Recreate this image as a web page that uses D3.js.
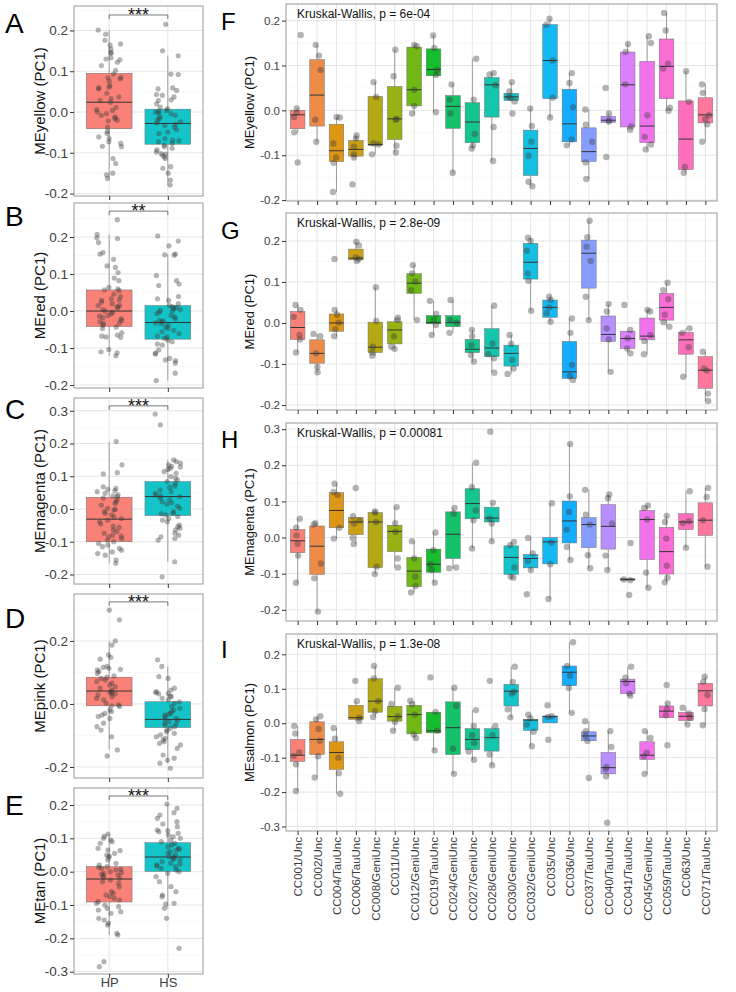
<!DOCTYPE html>
<html><head><meta charset="utf-8">
<script src="https://cdn.jsdelivr.net/npm/d3@7/dist/d3.min.js"></script>
<style>body{margin:0;background:#fff}svg{display:block}</style>
</head><body>
<svg id="c" width="736" height="992"></svg>
<script>
// ---------------- DATA ----------------
const groupsLeft = ["HP","HS"];
const catsRight = ["CC001/Unc","CC002/Unc","CC004/TauUnc","CC006/TauUnc","CC008/GeniUnc","CC011/Unc","CC012/GeniUnc","CC019/TauUnc","CC024/GeniUnc","CC027/GeniUnc","CC028/GeniUnc","CC030/GeniUnc","CC032/GeniUnc","CC035/Unc","CC036/Unc","CC037/TauUnc","CC040/TauUnc","CC041/TauUnc","CC045/GeniUnc","CC059/TauUnc","CC063/Unc","CC071/TauUnc"];

// Left panels: box stats [lo, q1, median, q3, hi]
const A_boxHP = [-0.163,-0.041,0.024,0.095,0.201], A_boxHS = [-0.179,-0.079,-0.028,0.007,0.138];
const B_boxHP = [-0.121,-0.042,0.000,0.057,0.207], B_boxHS = [-0.188,-0.076,-0.031,0.015,0.154];
const C_boxHP = [-0.166,-0.100,-0.031,0.036,0.206], C_boxHS = [-0.161,-0.020,0.038,0.084,0.150];
const D_boxHP = [-0.146,-0.006,0.041,0.085,0.200], D_boxHS = [-0.188,-0.075,-0.049,0.007,0.119];
const E_boxHP = [-0.190,-0.091,-0.022,0.015,0.113], E_boxHS = [-0.110,0.001,0.044,0.087,0.203];

const A_ptsHP = [0.201,0.191,0.176,0.167,0.164,0.154,0.146,0.144,0.133,0.130,0.128,0.122,0.114,0.102,0.093,0.085,0.084,0.081,0.076,0.065,0.061,0.059,0.057,0.046,0.037,0.033,0.028,0.024,0.011,0.006,0.004,0,-0.004,-0.008,-0.012,-0.016,-0.020,-0.022,-0.037,-0.047,-0.053,-0.061,-0.065,-0.073,-0.077,-0.084,-0.085,-0.114,-0.126,-0.150,-0.154,-0.163];
const A_ptsHS = [0.215,0.150,0.138,0.093,0.092,0.059,0.057,0.053,0.043,0.041,0.037,0.030,0.028,0.020,0.012,0.008,0.004,0.002,0,-0.002,-0.004,-0.008,-0.012,-0.016,-0.020,-0.024,-0.027,-0.030,-0.033,-0.037,-0.043,-0.049,-0.053,-0.065,-0.069,-0.071,-0.073,-0.077,-0.081,-0.085,-0.089,-0.093,-0.098,-0.102,-0.103,-0.106,-0.110,-0.114,-0.134,-0.138,-0.150,-0.167,-0.179];
const B_ptsHP = [0.247,0.207,0.198,0.196,0.185,0.158,0.154,0.140,0.122,0.118,0.104,0.089,0.082,0.064,0.060,0.057,0.055,0.046,0.039,0.033,0.030,0.029,0.024,0.020,0.015,0.015,0.011,0.009,0.004,0,-0.003,-0.007,-0.012,-0.014,-0.018,-0.021,-0.025,-0.029,-0.032,-0.034,-0.038,-0.043,-0.047,-0.059,-0.065,-0.068,-0.070,-0.071,-0.104,-0.110,-0.113,-0.121];
const B_ptsHS = [0.203,0.189,0.176,0.154,0.152,0.151,0.096,0.082,0.073,0.069,0.039,0.033,0.029,0.020,0.015,0.011,0.009,0.006,0.004,0.002,0,-0.003,-0.007,-0.012,-0.016,-0.021,-0.025,-0.027,-0.029,-0.032,-0.034,-0.038,-0.043,-0.047,-0.052,-0.056,-0.061,-0.068,-0.070,-0.074,-0.079,-0.083,-0.089,-0.092,-0.105,-0.114,-0.116,-0.128,-0.132,-0.134,-0.141,-0.168,-0.188];
const C_ptsHP = [0.206,0.135,0.111,0.107,0.068,0.063,0.060,0.056,0.053,0.048,0.043,0.040,0.038,0.033,0.028,0.022,0.017,0.012,0.002,-0.001,-0.003,-0.008,-0.013,-0.018,-0.024,-0.029,-0.034,-0.039,-0.046,-0.052,-0.056,-0.064,-0.069,-0.074,-0.080,-0.083,-0.085,-0.090,-0.095,-0.100,-0.105,-0.110,-0.115,-0.120,-0.126,-0.131,-0.136,-0.141,-0.156,-0.166];
const C_ptsHS = [0.290,0.257,0.150,0.145,0.140,0.135,0.130,0.128,0.124,0.121,0.114,0.109,0.099,0.094,0.089,0.084,0.079,0.070,0.066,0.058,0.053,0.048,0.043,0.040,0.038,0.033,0.028,0.022,0.019,0.015,0.009,0.002,-0.008,-0.013,-0.015,-0.018,-0.023,-0.029,-0.034,-0.039,-0.049,-0.054,-0.059,-0.064,-0.074,-0.080,-0.085,-0.090,-0.095,-0.161,-0.207];
const D_ptsHP = [0.298,0.267,0.200,0.187,0.156,0.148,0.142,0.119,0.116,0.113,0.110,0.108,0.103,0.097,0.089,0.085,0.081,0.076,0.071,0.066,0.060,0.055,0.050,0.044,0.039,0.036,0.034,0.032,0.029,0.023,0.018,0.013,0.002,-0.003,-0.006,-0.008,-0.019,-0.024,-0.030,-0.035,-0.040,-0.046,-0.061,-0.072,-0.083,-0.104,-0.146,-0.165];
const D_ptsHS = [0.140,0.119,0.087,0.081,0.050,0.044,0.039,0.036,0.034,0.032,0.025,0.023,0.018,0.013,0.007,0.002,-0.008,-0.014,-0.019,-0.024,-0.030,-0.032,-0.035,-0.040,-0.046,-0.049,-0.051,-0.056,-0.061,-0.063,-0.067,-0.072,-0.077,-0.083,-0.088,-0.093,-0.098,-0.104,-0.109,-0.114,-0.120,-0.125,-0.130,-0.141,-0.162,-0.172,-0.178,-0.188,-0.204];
const E_ptsHP = [0.113,0.107,0.100,0.095,0.090,0.085,0.070,0.065,0.063,0.055,0.050,0.047,0.043,0.035,0.025,0.020,0.015,0.013,0.010,0.007,0.005,0.000,-0.003,-0.005,-0.007,-0.010,-0.013,-0.017,-0.020,-0.025,-0.030,-0.035,-0.045,-0.060,-0.065,-0.070,-0.075,-0.080,-0.085,-0.090,-0.095,-0.100,-0.105,-0.110,-0.115,-0.120,-0.125,-0.140,-0.145,-0.155,-0.160,-0.185,-0.190,-0.270,-0.285];
const E_ptsHS = [0.203,0.190,0.177,0.170,0.160,0.150,0.143,0.135,0.125,0.123,0.120,0.115,0.110,0.105,0.100,0.095,0.090,0.085,0.080,0.075,0.070,0.067,0.065,0.060,0.055,0.050,0.045,0.043,0.040,0.037,0.035,0.030,0.025,0.023,0.020,0.017,0.015,0.010,0.005,0.000,-0.005,-0.015,-0.030,-0.045,-0.060,-0.070,-0.075,-0.095,-0.097,-0.110,-0.140,-0.230];

const A_sig = "***", B_sig = "**", C_sig = "***", D_sig = "***", E_sig = "***";
const A_sigY = 0.238, B_sigY = 0.270, C_sigY = 0.315, D_sigY = 0.324, E_sigY = 0.227;

const ticksAB = [-0.2,-0.1,0,0.1,0.2], labelsAB = ["-0.2","-0.1","0.0","0.1","0.2"];
const ticksC = [-0.2,-0.1,0,0.1,0.2,0.3], labelsC = ["-0.2","-0.1","0.0","0.1","0.2","0.3"];
const ticksD = [-0.2,0,0.2], labelsD = ["-0.2","0.0","0.2"];
const ticksE = [-0.3,-0.2,-0.1,0,0.1,0.2], labelsE = ["-0.3","-0.2","-0.1","0.0","0.1","0.2"];
const ticksFG = [-0.2,-0.1,0,0.1,0.2], labelsFG = ["-0.2","-0.1","0.0","0.1","0.2"];
const ticksH = [-0.2,-0.1,0,0.1,0.2,0.3], labelsH = ["-0.2","-0.1","0.0","0.1","0.2","0.3"];
const ticksI = [-0.3,-0.2,-0.1,0,0.1,0.2], labelsI = ["-0.3","-0.2","-0.1","0.0","0.1","0.2"];

// Right panels
const F_lo  = [-0.049,-0.070,-0.182,-0.105,-0.098,-0.094,-0.007,-0.004,-0.139,-0.085,-0.113,0.020,-0.169,-0.016,-0.078,-0.153,-0.027,-0.043,-0.087,-0.001,-0.139,-0.070];
const F_q1  = [-0.041,-0.035,-0.114,-0.102,-0.078,-0.065,0.010,0.077,-0.040,-0.072,-0.015,0.022,-0.145,0.026,-0.070,-0.114,-0.027,-0.037,-0.072,0.026,-0.132,-0.028];
const F_med = [-0.010,0.034,-0.090,-0.087,-0.076,-0.019,0.046,0.091,0.009,-0.026,0.057,0.030,-0.085,0.111,-0.030,-0.092,-0.022,0.057,-0.035,0.098,-0.064,-0.010];
const F_q3  = [0.000,0.113,-0.031,-0.067,0.031,0.053,0.141,0.137,0.033,0.017,0.073,0.038,-0.044,0.191,0.047,-0.039,-0.013,0.130,0.109,0.159,0.021,0.028];
const F_hi  = [0.004,0.146,-0.015,-0.056,0.063,0.135,0.146,0.167,0.058,0.115,0.083,0.062,0.004,0.204,0.083,0.002,-0.007,0.148,0.165,0.217,0.087,0.058];
const F_pts = [[0.168,0.004,-0.005,-0.015,-0.049,-0.116],[0.146,0.122,0.090,-0.021,-0.070],[-0.015,-0.016,-0.074,-0.105,-0.117,-0.182],[-0.056,-0.063,-0.081,-0.098,-0.105,-0.165],[0.063,0.030,-0.074,-0.076,-0.098],[0.135,0.076,-0.019,-0.021,-0.079,-0.094],[0.146,0.143,0.046,0.010,-0.007],[0.167,0.139,0.090,0.079,-0.004],[0.058,0.024,-0.007,-0.139],[0.115,0.024,-0.052,-0.078,-0.085],[0.083,0.080,0.056,-0.037,-0.113],[0.063,0.042,0.030,0.028,0.020,-0.007],[0.004,-0.035,-0.070,-0.101,-0.159,-0.169],[0.204,0.191,0.111,0.028,-0.016],[0.083,0.061,0.007,-0.065,-0.078],[0.002,-0.032,-0.070,-0.116,-0.153],[0.050,-0.007,-0.022,-0.025,-0.104],[0.148,0.130,0.058,-0.036,-0.043],[0.165,0.150,-0.011,-0.059,-0.076,-0.087],[0.217,0.178,0.104,0.093,0.006,-0.001],[0.087,0.019,-0.126,-0.139],[0.058,0.039,-0.011,-0.019,-0.031,-0.070]];

const G_lo  = [-0.072,-0.120,-0.032,0.151,-0.080,-0.063,0.007,-0.029,-0.024,-0.094,-0.121,-0.124,0.030,0.003,-0.139,0.007,-0.119,-0.074,-0.076,-0.009,-0.131,-0.190];
const G_q1  = [-0.040,-0.098,-0.020,0.154,-0.072,-0.051,0.072,-0.002,-0.009,-0.072,-0.082,-0.105,0.107,0.014,-0.135,0.085,-0.045,-0.062,-0.041,0.007,-0.076,-0.159];
const G_med = [-0.011,-0.074,0.000,0.158,-0.059,-0.017,0.097,0.001,0.001,-0.064,-0.061,-0.074,0.148,0.038,-0.119,0.170,-0.028,-0.038,-0.032,0.038,-0.041,-0.115];
const G_q3  = [0.028,-0.041,0.022,0.180,0.002,0.003,0.120,0.018,0.018,-0.040,-0.014,-0.054,0.194,0.056,-0.045,0.202,0.017,-0.020,0.012,0.072,-0.023,-0.082];
const G_hi  = [0.044,-0.027,0.032,0.198,0.087,0.013,0.141,0.054,0.056,-0.017,0.042,-0.029,0.208,0.064,0.011,0.249,0.046,-0.017,0.032,0.098,-0.013,-0.070];
const G_pts = [[0.044,0.032,0.015,-0.029,-0.040,-0.072],[-0.027,-0.032,-0.074,-0.107,-0.120],[0.156,0.032,0.020,0.001,-0.015,-0.032],[0.198,0.189,0.160,0.156,0.151],[0.087,0.005,-0.058,-0.072,-0.080],[0.013,0.007,-0.033,-0.058,-0.063],[0.141,0.121,0.101,0.080,0.007],[0.054,0.022,0.007,-0.005,-0.029],[0.056,0.007,0.001,-0.024],[-0.017,-0.032,-0.054,-0.078,-0.094],[0.042,-0.050,-0.076,-0.086,-0.121],[-0.029,-0.051,-0.090,-0.111,-0.124],[0.208,0.200,0.176,0.121,0.103,0.030],[0.064,0.056,0.038,0.024,0.003],[0.011,-0.024,-0.102,-0.129,-0.139],[0.249,0.209,0.186,0.151,0.064,0.007],[0.046,0.028,-0.013,-0.040,-0.119],[0.044,-0.017,-0.037,-0.062,-0.074],[0.032,0.028,-0.029,-0.044,-0.076],[0.098,0.080,0.058,0.020,0.002,-0.009],[-0.013,-0.024,-0.059,-0.131],[-0.070,-0.111,-0.116,-0.172,-0.190]];

const H_lo  = [-0.125,-0.205,-0.003,-0.018,-0.101,-0.083,-0.152,-0.125,-0.085,-0.030,-0.010,-0.111,-0.090,-0.170,-0.062,-0.085,-0.090,-0.118,-0.139,-0.124,-0.028,-0.081];
const H_q1  = [-0.042,-0.102,0.027,0.008,-0.083,-0.039,-0.136,-0.096,-0.058,0.052,0.043,-0.102,-0.084,-0.073,-0.015,-0.028,-0.032,-0.118,-0.061,-0.101,0.022,0.006];
const H_med = [-0.009,-0.024,0.075,0.043,0.043,0.017,-0.093,-0.074,0.009,0.094,0.054,-0.055,-0.058,-0.012,0.046,0.036,0.031,-0.116,0.050,-0.039,0.043,0.048];
const H_q3  = [0.022,0.032,0.124,0.055,0.069,0.034,-0.055,-0.032,0.071,0.135,0.084,-0.023,-0.047,0.000,0.101,0.055,0.091,-0.114,0.075,0.028,0.066,0.096];
const H_hi  = [0.052,0.040,0.149,0.059,0.072,0.084,-0.010,0.014,0.082,0.207,0.096,-0.012,-0.001,0.095,0.259,0.132,0.119,-0.114,0.089,0.060,0.128,0.137];
const H_pts = [[0.052,0.027,0.006,-0.017,-0.050,-0.125],[0.040,0.036,-0.072,-0.113,-0.205],[0.149,0.126,0.118,0.027,-0.003],[0.137,0.059,0.048,0.039,-0.001,-0.018],[0.072,0.069,0.043,-0.081,-0.101],[0.084,0.040,0.016,-0.058,-0.083],[-0.010,-0.058,-0.108,-0.134,-0.152],[0.014,-0.035,-0.074,-0.090,-0.125],[0.082,0.066,-0.083,-0.085],[0.207,0.139,0.075,0.048,-0.030],[0.293,0.096,0.052,0.039,-0.010],[-0.012,-0.021,-0.083,-0.108,-0.111],[-0.001,-0.044,-0.065,-0.090,-0.157],[0.095,-0.014,-0.074,-0.170],[0.259,0.114,0.071,0.022,-0.026,-0.062],[0.132,0.063,0.036,-0.049,-0.085],[0.119,0.109,0.039,-0.050,-0.090],[-0.015,-0.116,-0.118,-0.159],[0.089,0.082,0.050,-0.097,-0.139],[0.060,0.043,-0.003,-0.078,-0.111,-0.124],[0.128,0.045,0.040,-0.028],[0.137,0.112,0.048,-0.081]];

const I_lo  = [-0.197,-0.158,-0.205,0.006,0.018,-0.022,-0.043,-0.079,-0.147,-0.106,-0.122,0.017,-0.067,0.001,0.030,-0.052,-0.154,0.080,-0.147,0.016,-0.004,-0.006];
const I_q1  = [-0.111,-0.091,-0.134,0.011,0.032,0.006,-0.031,-0.028,-0.091,-0.077,-0.081,0.050,-0.021,0.001,0.109,-0.051,-0.147,0.086,-0.105,0.016,0.008,0.050];
const I_med = [-0.093,-0.047,-0.085,0.016,0.064,0.019,0.025,-0.022,-0.013,-0.047,-0.042,0.093,0.009,0.019,0.148,-0.037,-0.129,0.121,-0.093,0.035,0.020,0.094];
const I_q3  = [-0.047,0.004,-0.054,0.052,0.129,0.049,0.052,0.032,0.062,-0.016,-0.016,0.113,0.011,0.021,0.166,-0.025,-0.085,0.128,-0.054,0.050,0.031,0.116];
const I_hi  = [-0.008,0.020,-0.014,0.064,0.166,0.103,0.065,0.033,0.103,0.038,-0.008,0.164,0.025,0.021,0.235,0.006,-0.023,0.164,-0.023,0.057,0.045,0.135];
const I_pts = [[-0.008,-0.030,-0.085,-0.095,-0.119,-0.197],[0.020,0.011,-0.017,-0.051,-0.096,-0.158],[-0.014,-0.045,-0.100,-0.145,-0.205],[0.123,0.064,0.016,0.006],[0.166,0.130,0.064,0.035,0.018],[0.103,0.056,0.020,0.004,-0.022],[0.065,0.055,0.025,-0.033,-0.043],[0.133,0.033,-0.022,-0.079],[0.103,0.050,-0.074,-0.147],[0.038,-0.008,-0.035,-0.057,-0.082,-0.106],[0.123,-0.008,-0.035,-0.091,-0.122],[0.164,0.120,0.091,0.086,0.040,0.017],[0.025,0.014,-0.004,-0.025,-0.067],[0.052,0.020,0.018,-0.048],[0.235,0.166,0.138,0.103,0.030],[0.006,-0.023,-0.037,-0.052,-0.159],[-0.023,-0.069,-0.127,-0.134,-0.154,-0.289],[0.164,0.132,0.116,0.086,0.080],[-0.023,-0.043,-0.086,-0.096,-0.147],[0.111,0.057,0.041,0.023,-0.064],[0.045,0.028,0.016,-0.004],[0.135,0.120,0.082,0.041,-0.006]];

const F_title = "Kruskal-Wallis, p = 6e-04";
const G_title = "Kruskal-Wallis, p = 2.8e-09";
const H_title = "Kruskal-Wallis, p = 0.00081";
const I_title = "Kruskal-Wallis, p = 1.3e-08";

// ---------------- STYLE / HELPERS ----------------
const FONT = "'Liberation Sans', Arial, sans-serif";
const svg = d3.select("#c");

// ggplot2-style hue palette (polarLUV -> sRGB)
function hclLuv(h, c, l) {
  const WY = 100, Wu = 0.1978398, Wv = 0.4683363;
  const hr = h * Math.PI / 180, U = c * Math.cos(hr), V = c * Math.sin(hr);
  const Y = WY * (l > 7.999592 ? Math.pow((l + 16) / 116, 3) : l / 903.3);
  const t = Wu + U / (13 * l), s = Wv + V / (13 * l);
  const X = 9 * Y * t / (4 * s), Z = -X / 3 - 5 * Y + 3 * Y / s;
  const g = u => u > 0.00304 ? 1.055 * Math.pow(u, 1 / 2.4) - 0.055 : 12.92 * u;
  const cl = v => Math.round(255 * Math.max(0, Math.min(1, v)));
  const r = g((3.240479 * X - 1.537150 * Y - 0.498535 * Z) / WY);
  const gg = g((-0.969256 * X + 1.875992 * Y + 0.041556 * Z) / WY);
  const b = g((0.055648 * X - 0.204043 * Y + 1.057311 * Z) / WY);
  return d3.rgb(cl(r), cl(gg), cl(b)).formatHex();
}
function huePal(n) {
  const out = [];
  for (let i = 0; i < n; i++) out.push(hclLuv(15 + i * 360 / n, 100, 65));
  return out;
}
function jit(i, g) {
  const s = Math.sin((i + 1) * 12.9898 + (g + 1) * 78.233) * 43758.5453;
  return (s - Math.floor(s)) - 0.5;
}

function panel(o) {
  const g = svg.append("g");
  const x = d3.scalePoint().domain(o.cats).range([o.x0, o.x1]).padding(0.6);
  const y = d3.scaleLinear().domain(o.dom).range([o.y1, o.y0]);
  const step = x.step();
  g.append("rect").attr("x", o.x0).attr("y", o.y0).attr("width", o.x1 - o.x0).attr("height", o.y1 - o.y0).attr("fill", "#fff");
  const d = o.ticks[1] - o.ticks[0];
  const minors = [];
  for (let k = -1; k < o.ticks.length + 1; k++) {
    const v = o.ticks[0] + d * k + d / 2;
    if (v > o.dom[0] && v < o.dom[1]) minors.push(v);
  }
  g.selectAll(".mn").data(minors).join("line").attr("x1", o.x0).attr("x2", o.x1)
    .attr("y1", v => y(v)).attr("y2", v => y(v)).attr("stroke", "#f3f3f3").attr("stroke-width", 0.6);
  g.selectAll(".mj").data(o.ticks).join("line").attr("x1", o.x0).attr("x2", o.x1)
    .attr("y1", v => y(v)).attr("y2", v => y(v)).attr("stroke", "#e6e6e6").attr("stroke-width", 1);
  g.selectAll(".mx").data(o.cats).join("line").attr("y1", o.y0).attr("y2", o.y1)
    .attr("x1", c => x(c)).attr("x2", c => x(c)).attr("stroke", "#e6e6e6").attr("stroke-width", 1);

  const bw = step * o.bw;
  const data = o.cats.map((c, i) => ({ c, i, lo: o.lo[i], q1: o.q1[i], med: o.med[i], q3: o.q3[i], hi: o.hi[i], col: o.colors[i] }));
  g.selectAll(".wh").data(data).join("line").attr("x1", d => x(d.c)).attr("x2", d => x(d.c))
    .attr("y1", d => y(d.hi)).attr("y2", d => y(d.q3)).attr("stroke", "#8a8a8a").attr("stroke-width", 0.8);
  g.selectAll(".wl").data(data).join("line").attr("x1", d => x(d.c)).attr("x2", d => x(d.c))
    .attr("y1", d => y(d.q1)).attr("y2", d => y(d.lo)).attr("stroke", "#8a8a8a").attr("stroke-width", 0.8);
  g.selectAll(".bx").data(data).join("rect").attr("x", d => x(d.c) - bw / 2).attr("width", bw)
    .attr("y", d => y(d.q3)).attr("height", d => Math.max(0.8, y(d.q1) - y(d.q3)))
    .attr("fill", d => d.col).attr("fill-opacity", 0.92).attr("stroke", "#6e6e6e").attr("stroke-width", 0.5);
  g.selectAll(".md").data(data).join("line").attr("x1", d => x(d.c) - bw / 2).attr("x2", d => x(d.c) + bw / 2)
    .attr("y1", d => y(d.med)).attr("y2", d => y(d.med)).attr("stroke", "#333").attr("stroke-width", 1);

  const pts = [];
  o.pts.forEach((arr, gi) => arr.forEach((v, k) => pts.push({ c: o.cats[gi], v, j: jit(k, gi + o.seed) })));
  g.selectAll(".pt").data(pts).join("circle").attr("cx", p => x(p.c) + p.j * 2 * o.jw * step)
    .attr("cy", p => y(p.v)).attr("r", o.r).attr("fill", "#3a3a3a").attr("fill-opacity", 0.38);

  g.append("rect").attr("x", o.x0).attr("y", o.y0).attr("width", o.x1 - o.x0).attr("height", o.y1 - o.y0)
    .attr("fill", "none").attr("stroke", "#9a9a9a").attr("stroke-width", 1);

  const ya = g.append("g").attr("transform", `translate(${o.x0},0)`)
    .call(d3.axisLeft(y).tickValues(o.ticks).tickFormat((v, i) => o.labels[i]).tickSize(4).tickPadding(2));
  ya.select(".domain").remove();
  ya.selectAll("line").attr("stroke", "#333");
  ya.selectAll("text").attr("fill", "#3d3d3d").style("font-size", o.tickFont + "px").style("font-family", FONT);

  const xa = g.append("g").attr("transform", `translate(0,${o.y1})`)
    .call(d3.axisBottom(x).tickSize(4).tickPadding(1));
  xa.select(".domain").remove();
  xa.selectAll("line").attr("stroke", "#333");
  if (o.xlab === "none") xa.selectAll("text").remove();
  else if (o.xlab === "rot") {
    xa.selectAll("text").attr("transform", "rotate(-90)").attr("x", -6).attr("y", 0).attr("dy", "0.35em")
      .style("text-anchor", "end").attr("fill", "#3d3d3d").style("font-size", o.xFont + "px").style("font-family", FONT);
  } else {
    xa.selectAll("text").attr("dy", "0.6em").attr("fill", "#3d3d3d").style("font-size", o.xFontPlain + "px").style("font-family", FONT);
  }

  g.append("text").attr("transform", `translate(${o.titleX},${(o.y0 + o.y1) / 2}) rotate(-90)`)
    .attr("text-anchor", "middle").attr("dy", "0.35em").style("font-family", FONT).style("font-size", o.titleFont + "px")
    .attr("fill", "#111").text(o.ytitle);

  g.append("text").attr("x", o.letterX).attr("y", o.letterY).style("font-family", FONT)
    .style("font-size", o.letterFont + "px").attr("fill", "#000").text(o.letter);

  if (o.kw) {
    g.append("text").attr("x", o.x0 + 11).attr("y", y(o.dom[1]) + 14).style("font-family", FONT)
      .style("font-size", "12px").attr("fill", "#111").text(o.kw);
  }
  if (o.sig) {
    const by = y(o.sigY), xa0 = x(o.cats[0]), xa1 = x(o.cats[1]);
    g.append("path").attr("d", `M${xa0},${by + 4}V${by}H${xa1}V${by + 4}`).attr("fill", "none")
      .attr("stroke", "#555").attr("stroke-width", 0.8);
    g.append("text").attr("x", (xa0 + xa1) / 2).attr("y", by + 6).attr("text-anchor", "middle")
      .style("font-family", FONT).style("font-size", "18px").attr("fill", "#111").text(o.sig);
  }
}

const colL = huePal(2);
const colR = huePal(22);

const leftBase = { cats: groupsLeft, x0: 74, x1: 203, bw: 0.78, jw: 0.22, r: 2.6, colors: colL,
  tickFont: 13.5, xFontPlain: 13, titleFont: 15, titleX: 40, letterX: 5, letterFont: 28 };
const leftPanels = [
  { y0: 6, y1: 196, dom: [-0.206, 0.260], ticks: ticksAB, labels: labelsAB, box: [A_boxHP, A_boxHS], pts: [A_ptsHP, A_ptsHS], ytitle: "MEyellow (PC1)", letter: "A", letterY: 33, sig: A_sig, sigY: A_sigY, xlab: "none", seed: 1 },
  { y0: 203, y1: 388, dom: [-0.208, 0.292], ticks: ticksAB, labels: labelsAB, box: [B_boxHP, B_boxHS], pts: [B_ptsHP, B_ptsHS], ytitle: "MEred (PC1)", letter: "B", letterY: 226, sig: B_sig, sigY: B_sigY, xlab: "none", seed: 5 },
  { y0: 398, y1: 584, dom: [-0.229, 0.339], ticks: ticksC, labels: labelsC, box: [C_boxHP, C_boxHS], pts: [C_ptsHP, C_ptsHS], ytitle: "MEmagenta (PC1)", letter: "C", letterY: 419, sig: C_sig, sigY: C_sigY, xlab: "none", seed: 9 },
  { y0: 594, y1: 778, dom: [-0.235, 0.349], ticks: ticksD, labels: labelsD, box: [D_boxHP, D_boxHS], pts: [D_ptsHP, D_ptsHS], ytitle: "MEpink (PC1)", letter: "D", letterY: 628, sig: D_sig, sigY: D_sigY, xlab: "none", seed: 13 },
  { y0: 788, y1: 974, dom: [-0.307, 0.251], ticks: ticksE, labels: labelsE, box: [E_boxHP, E_boxHS], pts: [E_ptsHP, E_ptsHS], ytitle: "MEtan (PC1)", letter: "E", letterY: 815, sig: E_sig, sigY: E_sigY, xlab: "plain", seed: 17 }
];
leftPanels.forEach(p => {
  const b = p.box;
  panel(Object.assign({}, leftBase, p, {
    lo: b.map(v => v[0]), q1: b.map(v => v[1]), med: b.map(v => v[2]), q3: b.map(v => v[3]), hi: b.map(v => v[4])
  }));
});

const rightBase = { cats: catsRight, x0: 286, x1: 717, bw: 0.75, jw: 0.2, r: 3.2, colors: colR,
  tickFont: 11.5, xFont: 11.5, titleFont: 13, titleX: 249, letterX: 221, letterFont: 24 };
const rightPanels = [
  { y0: 4, y1: 201, dom: [-0.202, 0.237], ticks: ticksFG, labels: labelsFG, lo: F_lo, q1: F_q1, med: F_med, q3: F_q3, hi: F_hi, pts: F_pts, ytitle: "MEyellow (PC1)", letter: "F", letterY: 30, kw: F_title, xlab: "none", seed: 21 },
  { y0: 213, y1: 410, dom: [-0.212, 0.268], ticks: ticksFG, labels: labelsFG, lo: G_lo, q1: G_q1, med: G_med, q3: G_q3, hi: G_hi, pts: G_pts, ytitle: "MEred (PC1)", letter: "G", letterY: 239, kw: G_title, xlab: "none", seed: 47 },
  { y0: 423, y1: 621, dom: [-0.231, 0.317], ticks: ticksH, labels: labelsH, lo: H_lo, q1: H_q1, med: H_med, q3: H_q3, hi: H_hi, pts: H_pts, ytitle: "MEmagenta (PC1)", letter: "H", letterY: 448, kw: H_title, xlab: "none", seed: 73 },
  { y0: 634, y1: 831, dom: [-0.313, 0.259], ticks: ticksI, labels: labelsI, lo: I_lo, q1: I_q1, med: I_med, q3: I_q3, hi: I_hi, pts: I_pts, ytitle: "MEsalmon (PC1)", letter: "I", letterY: 658, kw: I_title, xlab: "rot", seed: 99 }
];
rightPanels.forEach(p => panel(Object.assign({}, rightBase, p)));
</script>
</body></html>
